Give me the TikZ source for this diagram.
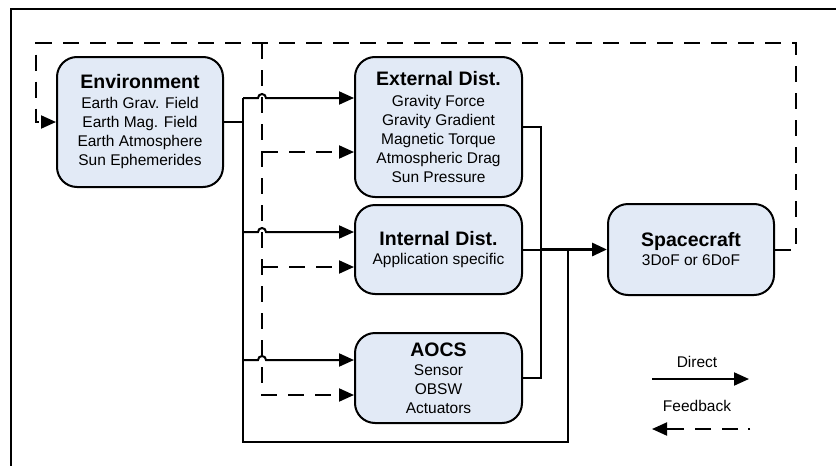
\documentclass[tikz,border=0pt]{standalone}
\usepackage{fontspec}
\setmainfont{Liberation Sans}
\usetikzlibrary{arrows.meta}
\definecolor{boxfill}{RGB}{226,234,246}
\tikzset{
  blk/.style={draw=black, line width=2pt, fill=boxfill, rounded corners=20pt,
    align=center, inner sep=0pt, font=\fontsize{15.5}{19}\selectfont},
  conn/.style={line width=2pt},
  fb/.style={line width=2pt, dash pattern=on 16pt off 11pt},
  tip/.style={-{Triangle[length=15pt,width=13pt]}},
  lbl/.style={font=\fontsize{15.5}{19}\selectfont, inner sep=0pt}
}
\newcommand{\ttl}[1]{{\fontsize{19.5}{22}\selectfont\bfseries #1}}
\begin{document}
\begin{tikzpicture}[x=1pt,y=1pt]
\useasboundingbox (0,0) rectangle (836,-466);
% outer frame
\draw[line width=2pt] (836,-9) -- (11,-9) -- (11,-466);

% blocks
\node[blk, minimum width=166pt, minimum height=130pt] (env) at (140,-122)
  {\ttl{Environment}\\[1pt] Earth Grav. Field\\ Earth Mag. Field\\ Earth Atmosphere\\ Sun Ephemerides};
\node[blk, minimum width=167pt, minimum height=140pt] (ext) at (438.5,-127)
  {\ttl{External Dist.}\\[2pt] Gravity Force\\ Gravity Gradient\\ Magnetic Torque\\ Atmospheric Drag\\ Sun Pressure};
\node[blk, minimum width=167pt, minimum height=89pt] (int) at (438.5,-249.5)
  {\ttl{Internal Dist.}\\ Application specific};
\node[blk, minimum width=167pt, minimum height=90pt] (aocs) at (438.5,-378)
  {\ttl{AOCS}\\ Sensor\\ OBSW\\ Actuators};
\node[blk, minimum width=166pt, minimum height=91pt] (sc) at (691,-249.5)
  {\ttl{Spacecraft}\\ 3DoF or 6DoF};

% coordinates
\coordinate (bT) at (243,-98);
\coordinate (bB) at (243,-442);
\coordinate (j2) at (568,-249.5);
\coordinate (j2b) at (568,-442);
\coordinate (j1) at (541,-249.5);
\coordinate (dT) at (262,-43);
\coordinate (dB) at (262,-395);
\coordinate (fR) at (796,-249.5);
\coordinate (fRT) at (796,-43);
\coordinate (fL) at (36,-43);

% direct bus
\draw[conn] (env.east) -- (env.east -| bT);
\draw[conn] (bT) -- (bB) -- (j2b) -- (j2);
\draw[conn, tip] (bT) -- (258,-98) arc (180:0:4pt) -- (bT -| ext.west);
\draw[conn, tip] (243,-232) -- (258,-232) arc (180:0:4pt) -- (ext.west |- 0,-232);
\draw[conn, tip] (243,-360) -- (258,-360) arc (180:0:4pt) -- (aocs.west |- 0,-360);

% feedback bus
\draw[fb, tip] (dT) -- (dB) -- (dB -| aocs.west);
\draw[fb, tip] (262,-152) -- (ext.west |- 0,-152);
\draw[fb, tip] (262,-267) -- (int.west |- 0,-267);
\draw[fb, tip] (sc.east) -- (fR) -- (fRT) -- (fL) |- (env.west);

% outputs
\draw[conn] (ext.east) -| (541,-378) -- (aocs.east);
\draw[conn] (int.east) -- (j1);
\draw[line width=3pt, tip] (j1) -- (sc.west);

% legend
\node[lbl] (ldir) at (697,-362) {Direct};
\coordinate (la1) at (652,-379);
\coordinate (la2) at (749,-379);
\draw[conn, tip] (la1) -- (la2);
\node[lbl] (lfb) at (697,-406) {Feedback};
\coordinate (lb1) at (750,-429);
\coordinate (lb2) at (652,-429);
\draw[fb, dash pattern=on 2pt off 10pt on 16pt off 11pt on 16pt off 11pt on 40pt, tip] (lb1) -- (lb2);
\end{tikzpicture}
\end{document}
